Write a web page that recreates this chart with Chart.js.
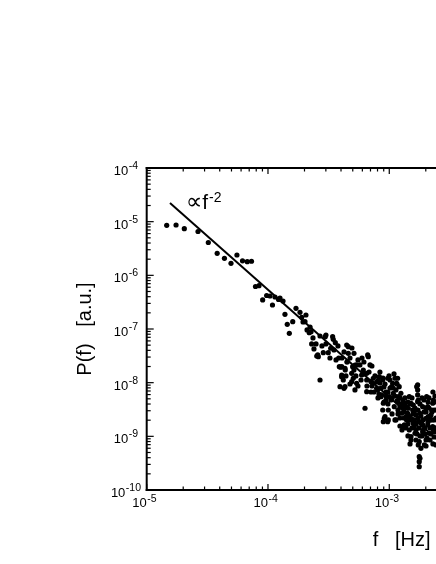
<!DOCTYPE html>
<html>
<head>
<meta charset="utf-8">
<script src="https://cdn.jsdelivr.net/npm/chart.js@4.4.0/dist/chart.umd.min.js"></script>
<style>
  html, body { margin: 0; padding: 0; background: #fff; overflow: hidden; }
  #wrap { width: 436px; height: 564px; overflow: hidden; }
</style>
</head>
<body>
<div id="wrap"><canvas id="psd" width="670" height="564"></canvas></div>
<script>
// power spectrum as log10 values
const logF = [
  -4.835, -4.758, -4.690, -4.577, -4.492, -4.419, -4.359, -4.305, -4.256, -4.210,
  -4.171, -4.136, -4.103, -4.074, -4.044, -4.011, -3.983, -3.963, -3.942, -3.913,
  -3.901, -3.876, -3.860, -3.841, -3.824, -3.796, -3.769, -3.736, -3.722, -3.695,
  -3.687, -3.660, -3.653, -3.645, -3.640, -3.621, -3.598, -3.590, -3.585, -3.571,
  -3.571, -3.544, -3.528, -3.522, -3.503, -3.483, -3.467, -3.462, -3.445, -3.417,
  -3.412, -3.406, -3.401, -3.393, -3.392, -3.392, -3.379, -3.373, -3.365, -3.365,
  -3.363, -3.351, -3.346, -3.338, -3.338, -3.310, -3.310, -3.302, -3.297, -3.291,
  -3.283, -3.283, -3.269, -3.269, -3.242, -3.228, -3.214, -3.200, -3.186, -3.186,
  -3.186, -3.178, -3.173, -3.159, -3.151, -3.132, -3.132, -3.104, -3.096, -3.091,
  -3.082, -3.077, -3.068, -3.063, -3.054, -3.054, -3.049, -3.049, -3.044, -3.041,
  -3.035, -3.027, -3.027, -3.013, -3.013, -3.011, -3.008, -3.008, -3.000, -2.994,
  -2.980, -2.977, -2.977, -2.972, -2.967, -2.959, -2.953, -2.953, -2.945, -2.939,
  -2.936, -2.931, -2.928, -2.926, -2.918, -2.912, -2.912, -2.904, -2.898, -2.890,
  -2.887, -2.885, -2.876, -2.871, -2.862, -2.862, -2.857, -2.848, -2.846, -2.846,
  -2.843, -2.835, -2.835, -2.829, -2.821, -2.821, -2.821, -2.813, -2.807, -2.802,
  -2.802, -2.796, -2.794, -2.788, -2.780, -2.780, -2.780, -2.774, -2.766, -2.766,
  -2.766, -2.766, -2.763, -2.761, -2.761, -2.753, -2.753, -2.753, -2.753, -2.753,
  -2.747, -2.747, -2.747, -2.739, -2.733, -2.730, -2.725, -2.725, -2.725, -2.720,
  -2.713, -2.711, -2.705, -2.697, -2.697, -2.697, -2.692, -2.683, -2.683, -2.680,
  -2.678, -2.670, -2.664, -2.664, -2.664, -2.656, -2.650, -2.648, -2.642, -2.642,
  -2.637, -2.637, -2.631, -2.629, -2.623, -2.615, -2.615, -2.615, -2.582, -2.582,
  -2.565, -2.541, -2.516,
  // denser part around 1e-3
  -3.118, -3.101, -3.085, -3.068, -3.052, -3.035, -3.027, -3.011, -2.994, -2.986,
  -2.969, -2.953, -2.937, -3.044, -3.093, -3.002, -2.961, -3.077, -3.143, -3.126,
  -2.928, -2.912, -2.895, -2.879, -2.871, -2.854, -2.838, -2.829, -2.813, -2.805,
  -2.796, -2.788, -2.780, -2.772, -2.763, -2.755, -2.747, -2.739, -2.730, -2.722,
  -2.714, -2.706, -2.697, -2.689, -2.681, -2.673, -2.664, -2.656, -2.648, -2.640,
  -2.631, -2.623, -2.697, -2.813, -2.846, -2.879, -2.895, -2.862, -2.829, -2.928,
  -2.945, -2.912, -2.615, -2.615, -2.640, -2.673,
  -3.456, -3.423, -3.390, -3.373, -3.349, -3.324, -3.308, -3.291, -3.275, -3.258,
  -3.233, -3.225, -3.209, -3.184, -3.167, -3.151, -3.143, -3.439, -3.357, -3.324,
  -3.258, -3.209,
  -3.711, -3.678, -3.629, -3.604, -3.555, -3.522, -3.489
];
const logP = [
  -5.068, -5.062, -5.131, -5.183, -5.388, -5.589, -5.683, -5.776, -5.621, -5.729,
  -5.746, -5.738, -6.208, -6.193, -6.459, -6.376, -6.385, -6.553, -6.404, -6.450,
  -6.422, -6.478, -6.726, -6.912, -7.080, -6.864, -6.614, -6.689, -6.782, -6.864,
  -6.739, -7.069, -6.963, -7.050, -7.279, -7.372, -7.503, -7.484, -7.516, -7.950,
  -7.130, -7.441, -7.143, -7.112, -7.441, -7.359, -7.143, -7.192, -7.255, -7.540,
  -7.702, -8.075, -7.713, -7.889, -7.702, -7.857, -7.950, -8.105, -8.075, -7.732,
  -7.764, -7.298, -7.609, -7.330, -7.453, -7.825, -7.982, -7.702, -7.918, -7.453,
  -7.671, -8.136, -8.012, -7.670, -7.670, -7.857, -7.764, -8.477, -7.950, -8.168,
  -7.825, -7.484, -7.516, -7.670, -7.982, -8.011, -7.918, -8.105, -8.136, -7.950,
  -7.889, -8.006, -8.261, -8.229, -7.950, -8.509, -8.384, -8.727, -8.080, -8.664,
  -8.634, -8.323, -8.174, -7.918, -8.727, -8.397, -8.695, -8.509, -8.261, -8.099,
  -8.075, -8.285, -8.583, -8.011, -8.198, -8.447, -7.918, -8.695, -8.136, -8.011,
  -8.341, -7.918, -8.509, -8.261, -8.075, -8.447, -8.658, -8.198, -8.570, -8.477,
  -8.323, -8.820, -8.788, -8.384, -8.634, -8.447, -8.695, -8.570, -8.360, -8.770,
  -8.477, -8.882, -8.261, -8.695, -9.006, -8.384, -9.068, -8.695, -8.509, -8.416,
  -8.757, -8.546, -8.820, -8.943, -9.068, -8.602, -8.882, -8.075, -8.354, -8.043,
  -8.136, -8.229, -8.658, -8.323, -9.161, -9.100, -8.727, -9.379, -9.472, -9.565,
  -8.570, -9.409, -8.993, -9.223, -8.757, -8.285, -8.913, -8.447, -8.788, -8.882,
  -8.546, -9.161, -8.956, -9.068, -8.664, -8.472, -8.261, -8.447, -8.788, -8.360,
  -8.634, -8.943, -8.695, -9.068, -8.844, -8.602, -8.509, -8.546, -8.820, -8.384,
  -8.323, -8.882, -9.012, -8.695, -8.248, -8.509, -8.844, -9.161, -8.416, -9.068,
  -8.695, -8.919, -8.546,
  // denser part around 1e-3
  -7.875, -7.987, -8.211, -8.099, -7.913, -8.025, -8.248, -8.174, -7.950, -8.323,
  -8.099, -8.248, -8.025, -8.360, -8.285, -7.875, -7.838, -7.801, -8.062, -8.174,
  -8.360, -8.285, -8.397, -8.546, -8.285, -8.472, -8.621, -8.397, -8.285, -8.583,
  -8.695, -8.472, -8.770, -8.956, -8.509, -8.844, -8.397, -8.621, -8.993, -8.695,
  -8.323, -8.844, -8.546, -9.031, -8.733, -8.472, -8.621, -8.956, -8.695, -9.142,
  -8.509, -8.919, -9.180, -8.844, -8.993, -8.658, -8.882, -8.844, -9.142, -8.583,
  -8.695, -8.807, -8.360, -8.658, -8.174, -8.285,
  -7.391, -7.316, -7.540, -7.428, -7.615, -7.540, -7.354, -7.764, -7.875, -7.577,
  -7.950, -7.540, -7.838, -8.062, -7.801, -8.174, -7.689, -7.577, -7.875, -8.025,
  -8.062, -7.615,
  -6.869, -7.018, -7.167, -7.279, -7.316, -7.279, -7.540
];
// the f^-2 guide line, its two ends
const fitF = [1.556e-5, 3.16e-3];
const fitP = [2.23e-5, 5.4e-10];
// where the "∝f-2" note sits
const noteF = 2.14e-5;
const noteP = 1.72e-5;

const xDecades = [-5, -4, -3, -2, -1];
const yDecades = [-10, -9, -8, -7, -6, -5, -4];

const FONT = "'Liberation Sans', 'DejaVu Sans', Arial, sans-serif";

const points = logF.map((lf, i) => ({ x: Math.pow(10, lf), y: Math.pow(10, logP[i]) }));
const fitLine = fitF.map((f, i) => ({ x: f, y: fitP[i] }));

function seg(ctx, x1, y1, x2, y2) {
  ctx.beginPath();
  ctx.moveTo(x1, y1);
  ctx.lineTo(x2, y2);
  ctx.stroke();
}

// frame, inward ticks and 10^n labels
const frame = {
  id: 'frame',
  afterDraw(chart) {
    const { ctx, chartArea: a, scales: { x, y } } = chart;
    ctx.save();
    ctx.strokeStyle = '#000';
    ctx.fillStyle = '#000';
    ctx.lineCap = 'square';
    ctx.lineWidth = 2;
    seg(ctx, a.left, a.top, a.right, a.top);
    seg(ctx, a.left, a.top, a.left, a.bottom);
    seg(ctx, a.left, a.bottom, a.right, a.bottom);

    ctx.lineWidth = 1.2;
    ctx.lineCap = 'butt';
    xDecades.forEach(e => {
      for (let k = 1; k <= 9; k++) {
        const v = k * Math.pow(10, e);
        if (v > x.max) continue;
        const px = x.getPixelForValue(v);
        const len = k === 1 ? 6 : 3.5;
        seg(ctx, px, a.bottom, px, a.bottom - len);
        seg(ctx, px, a.top, px, a.top + len);
      }
    });
    yDecades.forEach(e => {
      for (let k = 1; k <= 9; k++) {
        const v = k * Math.pow(10, e);
        if (v > y.max) continue;
        const py = y.getPixelForValue(v);
        const len = k === 1 ? 7 : 4;
        seg(ctx, a.left, py, a.left + len, py);
      }
    });

    const base = '13px ' + FONT;
    const sup = '10.5px ' + FONT;
    ctx.textBaseline = 'alphabetic';
    xDecades.forEach(e => {
      const px = x.getPixelForValue(Math.pow(10, e));
      ctx.font = base;
      ctx.textAlign = 'right';
      ctx.fillText('10', px, a.bottom + 17);
      ctx.font = sup;
      ctx.textAlign = 'left';
      ctx.fillText(String(e), px + 0.5, a.bottom + 12);
    });
    yDecades.forEach(e => {
      const py = y.getPixelForValue(Math.pow(10, e));
      ctx.font = base;
      const w1 = ctx.measureText('10').width;
      ctx.font = sup;
      const w2 = ctx.measureText(String(e)).width;
      const x0 = a.left - 21 - (w1 + w2) / 2;
      ctx.textAlign = 'left';
      ctx.font = base;
      ctx.fillText('10', x0, py + 7);
      ctx.font = sup;
      ctx.fillText(String(e), x0 + w1 + 0.5, py + 1);
    });

    // power law note
    const nx = x.getPixelForValue(noteF);
    const ny = y.getPixelForValue(noteP);
    ctx.font = '23px ' + FONT;
    ctx.fillText('\u221D', nx - 1, ny);
    const wp = ctx.measureText('\u221D').width;
    ctx.font = '21px ' + FONT;
    ctx.fillText('f', nx - 1 + wp, ny);
    const wf = ctx.measureText('f').width;
    ctx.font = '14px ' + FONT;
    ctx.fillText('-2', nx + wp + wf, ny - 7);
    ctx.restore();
  }
};

new Chart(document.getElementById('psd'), {
  type: 'scatter',
  data: {
    datasets: [
      {
        type: 'line',
        data: fitLine,
        borderColor: '#000',
        borderWidth: 2,
        pointRadius: 0,
        fill: false
      },
      {
        data: points,
        backgroundColor: '#000',
        borderWidth: 0,
        pointRadius: 2.6
      }
    ]
  },
  options: {
    responsive: false,
    animation: false,
    layout: { padding: { top: 168, right: 13.4, bottom: 0, left: 0 } },
    plugins: { legend: { display: false }, tooltip: { enabled: false } },
    scales: {
      x: {
        type: 'logarithmic',
        min: 1e-5,
        max: 0.16,
        grid: { display: false },
        border: { display: false },
        ticks: { display: false },
        title: {
          display: true,
          text: 'f   [Hz]',
          color: '#000',
          font: { family: FONT, size: 20 },
          padding: { top: 0, bottom: 12 }
        },
        afterFit: s => { s.height = 74; }
      },
      y: {
        type: 'logarithmic',
        min: 1e-10,
        max: 1e-4,
        grid: { display: false },
        border: { display: false },
        ticks: { display: false },
        title: {
          display: true,
          text: 'P(f)   [a.u.]',
          color: '#000',
          font: { family: FONT, size: 20 },
          padding: { top: 73, bottom: 0 }
        },
        afterFit: s => { s.width = 146.7; }
      }
    }
  },
  plugins: [frame]
});
</script>
</body>
</html>
